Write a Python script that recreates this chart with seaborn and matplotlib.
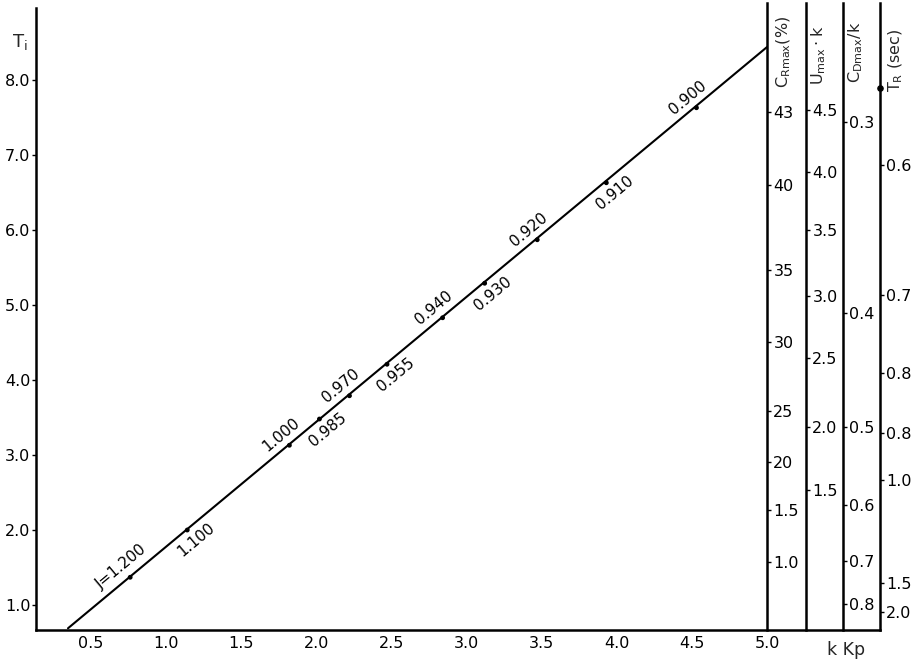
import numpy as np
import pandas as pd
import matplotlib
matplotlib.use("Agg")
import matplotlib.pyplot as plt
import seaborn as sns

# ---------------- data ----------------
kkp_ticks = [0.5, 1.0, 1.5, 2.0, 2.5, 3.0, 3.5, 4.0, 4.5, 5.0]
kkp_tick_labels = ["0.5", "1.0", "1.5", "2.0", "2.5", "3.0", "3.5", "4.0", "4.5", "5.0"]
ti_ticks = [1.0, 2.0, 3.0, 4.0, 5.0, 6.0, 7.0, 8.0]
ti_tick_labels = ["1.0", "2.0", "3.0", "4.0", "5.0", "6.0", "7.0", "8.0"]

line_kkp = [0.346, 5.0]
line_ti = [0.69, 8.44]

j_labels = ["J=1.200", "1.100", "1.000", "0.985", "0.970", "0.955",
            "0.940", "0.930", "0.920", "0.910", "0.900"]
j_kkp = [0.76, 1.14, 1.82, 2.02, 2.22, 2.47, 2.84, 3.12, 3.47, 3.93, 4.53]
j_ti = [1.37, 2.00, 3.13, 3.48, 3.79, 4.21, 4.83, 5.29, 5.87, 6.63, 7.63]
j_side = [1, -1, 1, -1, 1, -1, 1, -1, 1, -1, 1]   # +1 label above line

# right-hand nomograph scales (positions expressed on the Ti scale)
cr_labels = ["43", "40", "35", "30", "25", "20", "1.5", "1.0"]
cr_pos = [7.57, 6.60, 5.47, 4.51, 3.59, 2.91, 2.27, 1.57]
um_labels = ["4.5", "4.0", "3.5", "3.0", "2.5", "2.0", "1.5"]
um_pos = [7.60, 6.77, 6.00, 5.12, 4.29, 3.37, 2.53]
cd_labels = ["0.3", "0.4", "0.5", "0.6", "0.7", "0.8"]
cd_pos = [7.44, 4.89, 3.37, 2.33, 1.59, 1.01]
tr_labels = ["0.6", "0.7", "0.8", "0.8", "1.0", "1.5", "2.0"]
tr_pos = [6.87, 5.13, 4.09, 3.29, 2.67, 1.29, 0.91]
tr_dot = [7.89]

scale_titles = [r"$C_{Rmax}$(%)", r"$U_{max}\cdot k$", r"$C_{Dmax}/k$", r"$T_R$ (sec)"]

# ---------------- style ----------------
sns.set_theme(style="white")
plt.rcParams["font.family"] = ["DejaVu Sans"]
plt.rcParams["mathtext.default"] = "regular"

W, H = 913, 662
fig = plt.figure(figsize=(W / 100, H / 100), dpi=100)
fig.patch.set_facecolor("white")

def fx(px):
    return px / W

def fy(py):
    return 1 - py / H

left_px, right_px, bot_px, top_px = 36, 880, 630, 8
ax = fig.add_axes([fx(left_px), fy(bot_px), fx(right_px) - fx(left_px), fy(top_px) - fy(bot_px)])
ax.set_facecolor("white")

xlim = (0.133, 5.752)
ylim = (0.667, 8.96)

df_line = pd.DataFrame({"kKp": line_kkp, "Ti": line_ti})
sns.lineplot(data=df_line, x="kKp", y="Ti", ax=ax, color="black", lw=1.5)
df_pts = pd.DataFrame({"kKp": j_kkp, "Ti": j_ti})
sns.scatterplot(data=df_pts, x="kKp", y="Ti", ax=ax, color="black", s=12, edgecolor="none", zorder=5)

ax.set_xlim(*xlim)
ax.set_ylim(*ylim)
ax.set_xlabel("")
ax.set_ylabel("")
ax.set_xticks(kkp_ticks, kkp_tick_labels)
ax.set_yticks(ti_ticks, ti_tick_labels)
ax.tick_params(axis="x", length=0, pad=4, labelsize=11.5, colors="black")
ax.tick_params(axis="y", length=3, width=1, direction="out", left=True, pad=1, labelsize=11.5, colors="black")
for s in ["top", "right"]:
    ax.spines[s].set_visible(False)
for s in ["left", "bottom"]:
    ax.spines[s].set_color("black")
    ax.spines[s].set_linewidth(1.8)

# angle of line in display space
fig.canvas.draw()
p1 = ax.transData.transform((line_kkp[0], line_ti[0]))
p2 = ax.transData.transform((line_kkp[1], line_ti[1]))
ang = np.degrees(np.arctan2(p2[1] - p1[1], p2[0] - p1[0]))
nx, ny = -np.sin(np.radians(ang)), np.cos(np.radians(ang))
off = 9.5
for lab, xk, yt, sd in zip(j_labels, j_kkp, j_ti, j_side):
    ax.annotate(lab, (xk, yt), xytext=(sd * nx * off, sd * ny * off), textcoords="offset points",
                ha="center", va="center", rotation=ang, rotation_mode="anchor",
                fontsize=11, color="black")

# axis titles
fig.text(fx(20), fy(42), r"$T_i$", fontsize=13, ha="center", va="center")
fig.text(fx(846), fy(650), "k Kp", fontsize=12.5, ha="center", va="center")

# right-hand scales
scale_x_px = [767, 806, 843, 880]
scale_sets = [(cr_labels, cr_pos), (um_labels, um_pos), (cd_labels, cd_pos), (tr_labels, tr_pos)]
title_pos = [(784, 52), (819, 55), (856, 52), (896, 60)]
for i, (xp, (labs, pos)) in enumerate(zip(scale_x_px, scale_sets)):
    sax = fig.add_axes([fx(xp), fy(bot_px), 0.0001, fy(3) - fy(bot_px)])
    sax.patch.set_alpha(0)
    sax.set_ylim(ylim[0], ylim[0] + (ylim[1] - ylim[0]) * (bot_px - 3) / (bot_px - top_px))
    sax.set_xlim(0, 1)
    sax.set_xticks([])
    for s in ["top", "bottom", "left"]:
        sax.spines[s].set_visible(False)
    sax.spines["right"].set_color("black")
    sax.spines["right"].set_linewidth(1.8)
    sax.yaxis.tick_right()
    sax.set_yticks(pos, labs)
    sax.tick_params(axis="y", length=3, width=1, direction="out", pad=1.5, labelsize=11.5, colors="black")
    if i == 3:
        sax.scatter([1.0] * len(tr_dot), tr_dot, s=14, color="black", clip_on=False, zorder=5)
    tx, ty = title_pos[i]
    fig.text(fx(tx), fy(ty), scale_titles[i], rotation=90, fontsize=11.5, ha="center", va="center")

fig.savefig("out.png", dpi=100, facecolor="white")
